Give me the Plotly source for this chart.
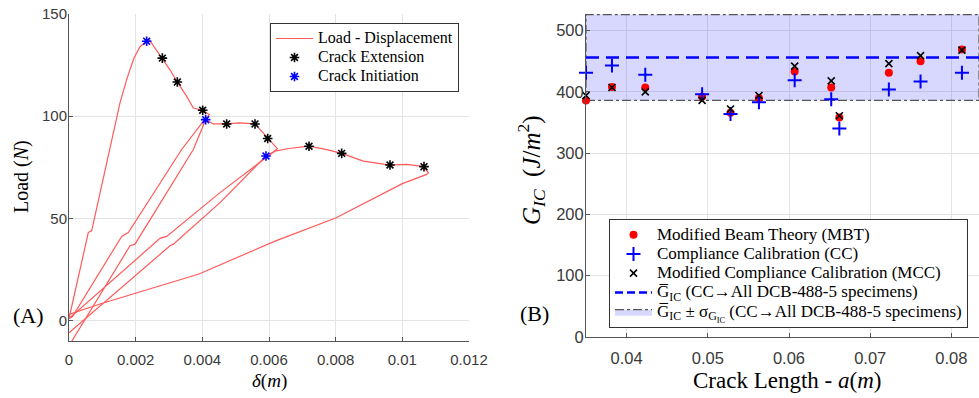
import plotly.graph_objects as go

# ---------------- Panel A data: load-displacement (None separates segments) ----------------
disp_m = [0.0, 0.00058, 0.00068, 0.00121, 0.00153, 0.00175, 0.00195, 0.00213, 0.00233, 0.0024,
          0.00258, 0.0028, 0.00303, 0.00325, 0.00353, 0.00373, 0.00401, 0.00421,
          0.00405, 0.00338, 0.00178, 0.00158, 0.0001, 0.0,
          None,
          0.00005, 0.00183, 0.00198, 0.00373, 0.0041,
          0.00433, 0.00473, 0.00513, 0.00558, 0.00596, 0.00625,
          0.0061, 0.00453, 0.00293, 0.00273, 0.0,
          None,
          0.0, 0.00303, 0.00313, 0.00453, 0.00591,
          0.00618, 0.0066, 0.0072, 0.0077, 0.00818, 0.00883, 0.00963, 0.01013, 0.01065, 0.01078,
          0.01073, 0.0100, 0.0090, 0.0080, 0.0062, 0.0039, 0.00093, 0.0]
load_N = [1.0, 43.1, 43.9, 83.7, 106.5, 119.0, 128.5, 134.0, 137.0, 137.7,
          133.3, 128.4, 122.7, 116.7, 109.7, 104.0, 102.9, 100.8,
          98.0, 83.7, 43.1, 41.2, 1.8, 1.0,
          None,
          -11.0, 36.6, 37.4, 83.7, 98.3,
          96.2, 96.2, 96.7, 96.2, 89.1, 84.1,
          82.0, 62.6, 41.2, 40.2, 1.0,
          None,
          -6.0, 36.6, 37.4, 57.7, 80.5,
          82.9, 84.2, 85.3, 83.8, 81.8, 78.0, 76.1, 76.4, 75.3, 72.3,
          71.5, 67.0, 58.5, 50.2, 39.0, 22.8, 8.1, 3.0]

ext_disp = [0.0028, 0.00325, 0.00401, 0.00473, 0.00558, 0.00596, 0.0072, 0.00818, 0.00963, 0.01065]
ext_load = [128.4, 116.7, 102.9, 96.2, 96.2, 89.1, 85.3, 81.8, 76.1, 75.3]
init_disp = [0.00233, 0.0041, 0.00591]
init_load = [136.7, 98.3, 80.5]

a_ticks = [0, 0.002, 0.004, 0.006, 0.008, 0.010, 0.012]
a_ticktext = ["0", "0.002", "0.004", "0.006", "0.008", "0.01", "0.012"]
load_ticks = [0, 50, 100, 150]

# ---------------- Panel B data: G_IC vs crack length ----------------
crack_m = [0.035, 0.0382, 0.0423, 0.0493, 0.0528, 0.0563, 0.0607, 0.0652, 0.0662, 0.0723, 0.0762, 0.0813]
G_MBT = [386, 408, 407, 392, 366, 390, 433, 407, 358, 431, 450, 469]
G_CC = [431, 443, 428, 396, 364, 383, 419, 388, 340, 404, 417, 431]
G_MCC = [394, 407, 400, 386, 372, 394, 442, 418, 361, 446, 459, 468]
G_mean = 456
G_std = 70
b_xrange = [0.035, 0.0834]
b_xticks = [0.04, 0.05, 0.06, 0.07, 0.08]
b_xticktext = ["0.04", "0.05", "0.06", "0.07", "0.08"]
b_yticks = [0, 100, 200, 300, 400, 500]

W, H = 979, 398
SERIF = "Liberation Serif"
SANS = "Liberation Sans"
RED = "#FF5A5A"


def lg(txt, size=16):
    return '<span style="font-size:%spx">%s</span>' % (size, txt)


MEAN_NAME = "G\u0305<sub>IC</sub> (CC\u2192All DCB-488-5 specimens)"
BAND_NAME = "G\u0305<sub>IC</sub> \u00b1 \u03c3<sub>G<sub>IC</sub></sub> (CC\u2192All DCB-488-5 specimens)"

fig = go.Figure()

# Panel A
fig.add_trace(go.Scatter(x=disp_m, y=load_N, mode="lines", name=lg("Load - Displacement"),
                         line=dict(color=RED, width=1.2), connectgaps=False,
                         xaxis="x", yaxis="y", legend="legend"))
fig.add_trace(go.Scatter(x=ext_disp, y=ext_load, mode="markers", name=lg("Crack Extension"),
                         marker=dict(symbol="asterisk-open", size=8, color="black",
                                     line=dict(color="black", width=1.6)),
                         xaxis="x", yaxis="y", legend="legend"))
fig.add_trace(go.Scatter(x=init_disp, y=init_load, mode="markers", name=lg("Crack Initiation"),
                         marker=dict(symbol="asterisk-open", size=8, color="blue",
                                     line=dict(color="blue", width=1.6)),
                         xaxis="x", yaxis="y", legend="legend"))

# Panel B
band_x = [b_xrange[0], b_xrange[1], b_xrange[1], b_xrange[0], b_xrange[0]]
band_y = [G_mean - G_std, G_mean - G_std, G_mean + G_std, G_mean + G_std, G_mean - G_std]

fig.add_trace(go.Scatter(x=band_x, y=band_y, mode="lines", fill="toself",
                         fillcolor="rgba(60,60,255,0.20)",
                         line=dict(color="#555555", width=1.2, dash="dashdot"),
                         name=BAND_NAME, xaxis="x2", yaxis="y2", legend="legend2",
                         showlegend=False, cliponaxis=False))
fig.add_trace(go.Scatter(x=b_xrange, y=[G_mean, G_mean], mode="lines",
                         line=dict(color="blue", width=2.5, dash="13px,7px"),
                         name=MEAN_NAME, xaxis="x2", yaxis="y2", legend="legend2", showlegend=False))
fig.add_trace(go.Scatter(x=crack_m, y=G_MBT, mode="markers", name=lg("Modified Beam Theory (MBT)", 17),
                         marker=dict(symbol="circle", size=8, color="red"),
                         xaxis="x2", yaxis="y2", legend="legend2", cliponaxis=False))
fig.add_trace(go.Scatter(x=crack_m, y=G_CC, mode="markers", name=lg("Compliance Calibration (CC)", 17),
                         marker=dict(symbol="cross-thin", size=10, color="blue",
                                     line=dict(color="blue", width=2)),
                         xaxis="x2", yaxis="y2", legend="legend2", cliponaxis=False))
fig.add_trace(go.Scatter(x=crack_m, y=G_MCC, mode="markers", name=lg("Modified Compliance Calibration (MCC)", 17),
                         marker=dict(symbol="x-thin", size=7, color="black",
                                     line=dict(color="black", width=1.6)),
                         xaxis="x2", yaxis="y2", legend="legend2", cliponaxis=False))
# legend-only entries for mean line and band
fig.add_trace(go.Scatter(x=[None], y=[None], mode="lines",
                         line=dict(color="blue", width=2.5, dash="8px,4px"),
                         name=lg(MEAN_NAME, 17), xaxis="x2", yaxis="y2", legend="legend2"))
fig.add_trace(go.Scatter(x=[None], y=[None], mode="lines", fill="toself",
                         fillcolor="rgba(60,60,255,0.20)",
                         line=dict(color="#555555", width=1.2, dash="dashdot"),
                         name=lg(BAND_NAME, 17), xaxis="x2", yaxis="y2", legend="legend2"))


def px_x(p):
    return p / W


def px_y(p):
    return 1 - p / H


axis_common = dict(showgrid=True, gridcolor="#E3E3E3", gridwidth=1, zeroline=False,
                   showline=True, linecolor="#555555", linewidth=1, ticks="inside",
                   ticklen=4, tickcolor="#555555", mirror=False, automargin=False)


def ann(text, x, y, size, angle=0):
    return dict(text=text, x=px_x(x), y=px_y(y), xref="paper", yref="paper", showarrow=False,
                xanchor="center", yanchor="middle", textangle=angle,
                font=dict(family=SERIF, size=size, color="black"))


fig.update_layout(
    width=W, height=H, margin=dict(l=0, r=0, t=0, b=0, autoexpand=False),
    paper_bgcolor="white", plot_bgcolor="white",
    xaxis=dict(domain=[px_x(69), px_x(469)], range=[0, 0.012], tickvals=a_ticks, ticktext=a_ticktext,
               tickfont=dict(family=SANS, size=15, color="#3a3a3a"), anchor="y",
               ticklabelstandoff=5, **axis_common),
    yaxis=dict(domain=[px_y(341), px_y(14)], range=[-10, 150], tickvals=load_ticks,
               tickfont=dict(family=SANS, size=15, color="#3a3a3a"), anchor="x",
               ticklabelstandoff=-2, **axis_common),
    xaxis2=dict(domain=[px_x(586), 1.0], range=b_xrange, tickvals=b_xticks, ticktext=b_xticktext,
                tickfont=dict(family=SANS, size=16.5, color="#3a3a3a"), anchor="y2",
                ticklabelstandoff=6, **axis_common),
    yaxis2=dict(domain=[px_y(337), px_y(14)], range=[0, 527], tickvals=b_yticks,
                tickfont=dict(family=SANS, size=16.5, color="#3a3a3a"), anchor="x2",
                ticklabelstandoff=-2, **axis_common),
    legend=dict(x=px_x(270), y=px_y(23), xanchor="left", yanchor="top", bgcolor="white",
                bordercolor="#333333", borderwidth=1, itemwidth=37, tracegroupgap=0,
                font=dict(family=SERIF, size=12.3, color="black")),
    legend2=dict(x=px_x(609), y=px_y(219), xanchor="left", yanchor="top", bgcolor="white",
                 bordercolor="#333333", borderwidth=1, itemwidth=37, tracegroupgap=0,
                 font=dict(family=SERIF, size=12.5, color="black")),
    annotations=[
        ann("(A)", 28, 315, 22),
        ann("(B)", 534, 313, 22),
        ann("Load (<i>N</i>)", 21, 177, 20, -90),
        ann("<i>\u03b4</i>(<i>m</i>)", 269, 381, 19),
        ann("<i>G</i><sub><i>IC</i></sub>  (<i>J</i>/<i>m</i><sup>2</sup>)", 531, 170, 25, -90),
        ann("Crack Length - <i>a</i>(<i>m</i>)", 787, 380, 23),
    ],
)

fig.write_html("out.html", config={"displayModeBar": False},
               post_script="document.body.style.margin='0px';document.body.style.overflow='hidden';")
